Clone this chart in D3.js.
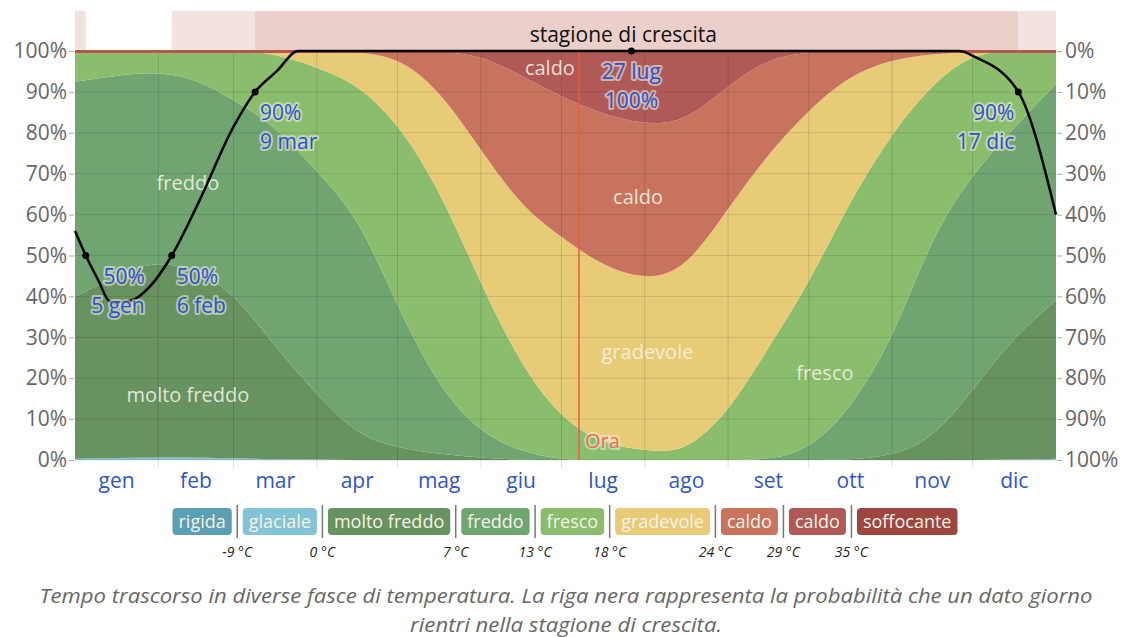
<!DOCTYPE html>
<html>
<head>
<meta charset="utf-8">
<script src="https://cdn.jsdelivr.net/npm/d3@7"></script>
<style>
  body { margin: 0; background: #fff; font-family: "Open Sans", sans-serif; }
  svg text { font-family: "Open Sans", sans-serif; }
</style>
</head>
<body>
<script>
// day of year for each sample
var days = [0, 15, 31, 46, 59, 74, 90, 105, 120, 135, 151, 166, 181, 196, 212, 227, 243, 258, 273, 288, 304, 319, 334, 349, 365];

// share of time (%) in each temperature band
var rigida      = [0, 0, 0, 0, 0, 0, 0, 0, 0, 0, 0, 0, 0, 0, 0, 0, 0, 0, 0, 0, 0, 0, 0, 0, 0];
var glaciale    = [0.3, 0.5, 0.6, 0.6, 0.4, 0.2, 0.1, 0, 0, 0, 0, 0, 0, 0, 0, 0, 0, 0, 0, 0, 0, 0, 0, 0.1, 0.3];
var moltoFreddo = [39.7, 44.5, 48.4, 45.4, 40.6, 27.8, 15.9, 6, 3, 1.5, 0.5, 0, 0, 0, 0, 0, 0, 0, 0, 0, 1, 5, 17, 29.9, 38.7];
var freddo      = [52.5, 49, 46, 47, 47, 54, 54.5, 54, 34.5, 16.5, 6, 2, 0, 0, 0, 0, 0, 0, 2.4, 12, 28, 50, 53, 51, 53];
var fresco      = [7.5, 6, 5, 7, 12, 17.5, 25.5, 32, 45, 49, 36.5, 21, 10, 4, 2.3, 1.7, 11.5, 27.5, 40.6, 51, 51, 37, 29.5, 19, 8];
var gradevole   = [0, 0, 0, 0, 0, 0.5, 4, 7.8, 16, 24, 32.8, 39, 44.5, 43.5, 41.7, 44.6, 50, 47.5, 42.6, 31, 18, 7.3, 0.3, 0, 0];
var caldo       = [0, 0, 0, 0, 0, 0, 0, 0.2, 1.5, 9, 23.2, 32, 34.3, 37.1, 38, 36.2, 30, 23.3, 14.1, 6, 2, 0.7, 0.2, 0, 0];
var caldo2      = [0, 0, 0, 0, 0, 0, 0, 0, 0, 0, 1, 6, 11.2, 15.4, 18, 17.5, 8.5, 1.7, 0.3, 0, 0, 0, 0, 0, 0];
var soffocante  = [0, 0, 0, 0, 0, 0, 0, 0, 0, 0, 0, 0, 0, 0, 0, 0, 0, 0, 0, 0, 0, 0, 0, 0, 0];

// probability (%) that a day is in the growing season
var seasonDays = [0, 4, 9, 12.5, 15, 21, 28, 36, 46, 59, 67, 75, 83, 150, 207, 260, 329, 335, 351, 365];
var seasonPct  = [56, 50, 43.5, 39, 38.5, 39, 42.5, 50, 63, 81.5, 90, 95, 100, 100, 100, 100, 100, 98.5, 90, 60];

var markerDays  = [4, 36, 67, 207, 351];
var markerPct   = [50, 50, 90, 100, 90];
var markerDates = ["5 gen", "6 feb", "9 mar", "27 lug", "17 dic"];

var today = 187.5;

var monthNames  = ["gen", "feb", "mar", "apr", "mag", "giu", "lug", "ago", "set", "ott", "nov", "dic"];
var monthStarts = [0, 31, 59, 90, 120, 151, 181, 212, 243, 273, 304, 334, 365];

var bandLabelText = ["freddo", "molto freddo", "caldo", "caldo", "gradevole", "fresco"];
var bandLabelDay  = [42, 42, 176.7, 209.5, 213, 279];
var bandLabelPct  = [67.7, 16, 95.8, 64.3, 26.4, 21.3];

var legendNames = ["rigida", "glaciale", "molto freddo", "freddo", "fresco", "gradevole", "caldo", "caldo", "soffocante"];
var legendTemps = ["-9 °C", "0 °C", "7 °C", "13 °C", "18 °C", "24 °C", "29 °C", "35 °C"];

var keys   = ["rigida", "glaciale", "moltoFreddo", "freddo", "fresco", "gradevole", "caldo", "caldo2", "soffocante"];
var colors = ["#5a9fb4", "#82c3d6", "#68925f", "#70a571", "#8abe6d", "#e7cb77", "#c7735e", "#b05a57", "#9c463f"];
var series = [rigida, glaciale, moltoFreddo, freddo, fresco, gradevole, caldo, caldo2, soffocante];

var w = 1132, h = 637;
var margin = {top: 51, right: 76, bottom: 177, left: 75};

var svg = d3.select("body").append("svg")
    .attr("width", w)
    .attr("height", h);

var x = d3.scaleLinear().domain([0, 365]).range([margin.left, w - margin.right]);
var y = d3.scaleLinear().domain([0, 100]).range([h - margin.bottom, margin.top]);

// growing season band on top
function seasonAt(d) {
  for (var i = 1; i < seasonDays.length; i++) {
    if (d <= seasonDays[i]) {
      var t = (d - seasonDays[i - 1]) / (seasonDays[i] - seasonDays[i - 1]);
      return seasonPct[i - 1] + t * (seasonPct[i] - seasonPct[i - 1]);
    }
  }
  return seasonPct[seasonPct.length - 1];
}
var segs = [];
var step = 0.25;
for (var d = 0; d < 365; d += step) {
  var p = seasonAt(d + step / 2);
  var lvl = p >= 90 ? 2 : (p >= 50 ? 1 : 0);
  if (segs.length && segs[segs.length - 1].lvl == lvl) segs[segs.length - 1].end = d + step;
  else segs.push({start: d, end: d + step, lvl: lvl});
}
svg.append("g").selectAll("rect")
  .data(segs.filter(function(s) { return s.lvl > 0; }))
  .enter().append("rect")
    .attr("x", function(s) { return x(s.start); })
    .attr("width", function(s) { return x(s.end) - x(s.start); })
    .attr("y", 11)
    .attr("height", margin.top - 11)
    .attr("fill", function(s) { return s.lvl == 2 ? "#eacfca" : "#f3e3e0"; });

svg.append("text")
  .attr("x", x(204)).attr("y", 42)
  .attr("text-anchor", "middle")
  .attr("font-size", 21).attr("fill", "#111")
  .text("stagione di crescita");

// stacked areas
var rows = days.map(function(d, i) {
  var r = {day: d};
  keys.forEach(function(k, j) { r[k] = series[j][i]; });
  return r;
});
var stack = d3.stack().keys(keys);
var area = d3.area()
  .curve(d3.curveBasis)
  .x(function(d) { return x(d.data.day); })
  .y0(function(d) { return y(d[0]); })
  .y1(function(d) { return y(d[1]); });

svg.append("g").selectAll("path")
  .data(stack(rows))
  .enter().append("path")
    .attr("d", area)
    .attr("fill", function(d, i) { return colors[i]; });

// grid
svg.append("g").selectAll("line")
  .data(d3.range(0, 101, 10))
  .enter().append("line")
    .attr("x1", x(0)).attr("x2", x(365))
    .attr("y1", function(d) { return y(d); })
    .attr("y2", function(d) { return y(d); })
    .attr("stroke", "rgba(0,0,0,0.11)");

svg.append("g").selectAll("line")
  .data(monthStarts.slice(1, 12))
  .enter().append("line")
    .attr("x1", function(d) { return x(d); })
    .attr("x2", function(d) { return x(d); })
    .attr("y1", y(100)).attr("y2", y(0) + 8)
    .attr("stroke", "rgba(0,0,0,0.13)");

// top border strip
svg.append("line")
  .attr("x1", x(0)).attr("x2", x(365))
  .attr("y1", y(100) + 0.5).attr("y2", y(100) + 0.5)
  .attr("stroke", "#b3584e").attr("stroke-width", 3);

// axes
var yl = svg.append("g")
  .attr("transform", "translate(" + (x(0) - 1) + ",0)")
  .call(d3.axisLeft(y).tickValues(d3.range(0, 101, 10)).tickSize(5).tickPadding(2)
    .tickFormat(function(d) { return d + "%"; }));
var yr = svg.append("g")
  .attr("transform", "translate(" + (x(365) + 1) + ",0)")
  .call(d3.axisRight(y).tickValues(d3.range(0, 101, 10)).tickSize(5).tickPadding(3)
    .tickFormat(function(d) { return (100 - d) + "%"; }));
[yl, yr].forEach(function(g) {
  g.select(".domain").remove();
  g.selectAll(".tick line").attr("stroke", "#aaa");
  g.selectAll(".tick text").attr("font-size", 21).attr("fill", "#666")
    .attr("font-family", "'Open Sans', sans-serif");
});

svg.append("g").selectAll("text")
  .data(monthNames)
  .enter().append("text")
    .attr("x", function(d, i) { return x((monthStarts[i] + monthStarts[i + 1]) / 2); })
    .attr("y", y(0) + 28)
    .attr("text-anchor", "middle")
    .attr("font-size", 21)
    .attr("fill", "#2f56c6")
    .text(function(d) { return d; });

// band labels
svg.append("g").selectAll("text")
  .data(bandLabelText)
  .enter().append("text")
    .attr("x", function(d, i) { return x(bandLabelDay[i]); })
    .attr("y", function(d, i) { return y(bandLabelPct[i]); })
    .attr("dy", "0.35em")
    .attr("text-anchor", "middle")
    .attr("font-size", 20)
    .attr("fill", "rgba(245,243,228,0.88)")
    .text(function(d) { return d; });

// today line
svg.append("line")
  .attr("x1", x(today)).attr("x2", x(today))
  .attr("y1", y(100)).attr("y2", y(0))
  .attr("stroke", "#ee5b3c").attr("stroke-width", 1.5);
svg.append("text")
  .attr("x", x(today) + 6).attr("y", y(0) - 19)
  .attr("dy", "0.35em")
  .attr("font-size", 20)
  .attr("fill", "#ec6a4c")
  .attr("stroke", "rgba(255,255,255,0.45)").attr("stroke-width", 4)
  .attr("paint-order", "stroke")
  .text("Ora");

// growing season line
var line = d3.line()
  .curve(d3.curveMonotoneX)
  .x(function(d, i) { return x(seasonDays[i]); })
  .y(function(d) { return y(d); });
svg.append("path")
  .datum(seasonPct)
  .attr("d", line)
  .attr("fill", "none")
  .attr("stroke", "#000")
  .attr("stroke-width", 2.5);

svg.append("g").selectAll("circle")
  .data(markerDays)
  .enter().append("circle")
    .attr("cx", function(d) { return x(d); })
    .attr("cy", function(d, i) { return y(markerPct[i]); })
    .attr("r", 3.5)
    .attr("fill", "#000");

var anchors = ["end", "start", "start", "middle", "end"];
var offX = [59, 5, 5, 0, -4];
markerDays.forEach(function(d, i) {
  var lines = i == 3 ? [markerDates[i], markerPct[i] + "%"] : [markerPct[i] + "%", markerDates[i]];
  var t = svg.append("text")
    .attr("text-anchor", anchors[i])
    .attr("font-size", 21)
    .attr("fill", "#2e52c8")
    .attr("stroke", "rgba(235,235,225,0.6)").attr("stroke-width", 4)
    .attr("stroke-linejoin", "round")
    .attr("paint-order", "stroke");
  lines.forEach(function(s, k) {
    t.append("tspan")
      .attr("x", x(d) + offX[i])
      .attr("y", y(markerPct[i]) + 21 + k * 29)
      .attr("dy", "0.35em")
      .text(s);
  });
});

// legend
var lg = svg.append("g");
var pos = 0, seps = [];
legendNames.forEach(function(n, i) {
  var g = lg.append("g");
  var t = g.append("text")
    .attr("font-size", 18)
    .attr("fill", "#f6f3e6")
    .attr("y", 522)
    .attr("dy", "0.35em")
    .text(n);
  var tw = t.node().getComputedTextLength();
  var bw = tw + 12;
  g.insert("rect", "text")
    .attr("x", pos).attr("y", 508)
    .attr("width", bw).attr("height", 27)
    .attr("rx", 4)
    .attr("fill", colors[i]);
  t.attr("x", pos + 6);
  pos += bw;
  if (i < legendNames.length - 1) {
    pos += 5.5;
    seps.push(pos);
    pos += 5.5;
  }
});
var shift = 565 - pos / 2;
lg.attr("transform", "translate(" + shift + ",0)");
lg.selectAll("line.sep")
  .data(seps)
  .enter().append("line")
    .attr("x1", function(d) { return d; })
    .attr("x2", function(d) { return d; })
    .attr("y1", 505).attr("y2", 538)
    .attr("stroke", "#777").attr("stroke-width", 1.5);
lg.selectAll("text.temp")
  .data(legendTemps)
  .enter().append("text")
    .attr("x", function(d, i) { return seps[i]; })
    .attr("y", 557)
    .attr("text-anchor", "middle")
    .attr("font-size", 14)
    .attr("font-style", "italic")
    .attr("fill", "#222")
    .text(function(d) { return d; });

// caption
var cap = ["Tempo trascorso in diverse fasce di temperatura. La riga nera rappresenta la probabilità che un dato giorno",
           "rientri nella stagione di crescita."];
var capWidth = [1053, 312];
svg.append("g").selectAll("text")
  .data(cap)
  .enter().append("text")
    .attr("x", 566)
    .attr("y", function(d, i) { return 603 + i * 29; })
    .attr("text-anchor", "middle")
    .attr("font-size", 20)
    .attr("font-style", "italic")
    .attr("fill", "#666")
    .attr("textLength", function(d, i) { return capWidth[i]; })
    .attr("lengthAdjust", "spacingAndGlyphs")
    .text(function(d) { return d; });
</script>
</body>
</html>
